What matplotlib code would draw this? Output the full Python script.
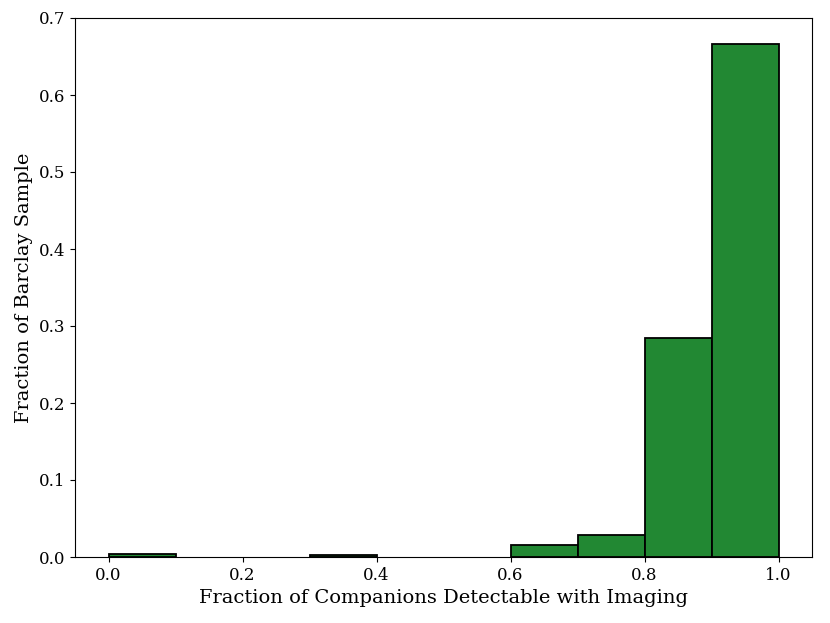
import matplotlib
matplotlib.use('Agg')
import matplotlib.pyplot as plt

plt.rcParams['font.family'] = 'DejaVu Serif'

# bords des classes et fraction de l'echantillon dans chaque classe
bin_edges = [0.0, 0.1, 0.2, 0.3, 0.4, 0.5, 0.6, 0.7, 0.8, 0.9, 1.0]
fractions = [0.004, 0.0, 0.0, 0.002, 0.0, 0.0, 0.0157, 0.0288, 0.284, 0.666]

fig = plt.figure(figsize=(8.3, 6.23), dpi=100)
ax = fig.add_axes([75 / 830, 1 - 557 / 623, 737 / 830, 539 / 623])

# on ne trace que les classes non vides
gauche = [bin_edges[i] for i in range(len(fractions)) if fractions[i] > 0]
largeur = [bin_edges[i + 1] - bin_edges[i] for i in range(len(fractions)) if fractions[i] > 0]
hauteur = [f for f in fractions if f > 0]

ax.bar(gauche, hauteur, width=largeur, align='edge',
       color='#228833', edgecolor='black', linewidth=1.3)

ax.set_xlim(-0.05, 1.05)
ax.set_ylim(0, 0.7)
ax.set_xlabel('Fraction of Companions Detectable with Imaging', fontsize=14)
ax.set_ylabel('Fraction of Barclay Sample', fontsize=14)
ax.tick_params(labelsize=12)

fig.savefig('out.png', dpi=100)
